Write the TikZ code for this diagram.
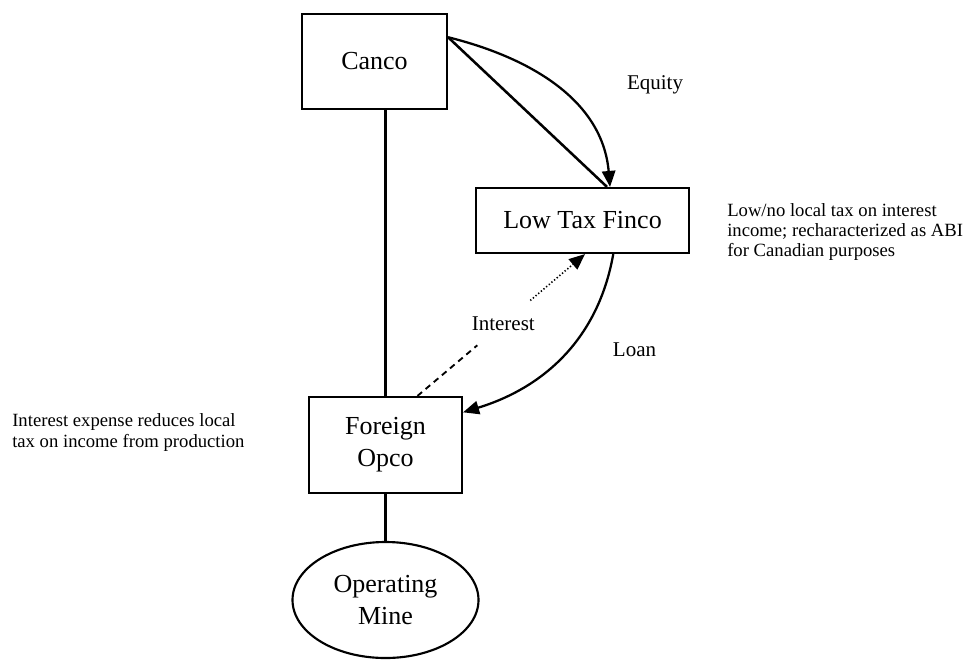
\documentclass[tikz,border=0pt]{standalone}
\usepackage{fontspec}
\setmainfont{Liberation Serif}
\usetikzlibrary{arrows.meta,shapes.geometric,calc}
\begin{document}
\begin{tikzpicture}[x=0.75pt,y=-0.75pt,
  box/.style={draw, line width=1.6pt, inner sep=0pt, font=\fontsize{19.5}{24}\selectfont, align=center},
  lab/.style={font=\fontsize{15.75}{18}\selectfont, inner sep=0pt},
  note/.style={align=left, inner sep=0pt},
  conn/.style={line width=1.7pt},
  tip/.style={-{Triangle[length=12pt,width=10pt]}}
]
\useasboundingbox (0,0) rectangle (971,661);
% nodes
\node[box, minimum width=108.75pt, minimum height=71.25pt] (canco) at (374.5,61.5) {Canco};
\node[box, minimum width=159.75pt, minimum height=48.75pt] (finco) at (582.5,220.5) {Low Tax Finco};
\node[box, minimum width=114.75pt, minimum height=72pt] (opco) at (385.5,445) {Foreign\\Opco};
\node[box, ellipse, minimum width=139.5pt, minimum height=87pt] (mine) at (385.5,600) {Operating\\Mine};
% annotations
\node[note, anchor=west, font=\fontsize{14}{15}\selectfont] (noteR) at (727,232)
  {Low/no local tax on interest\\income; recharacterized as ABI\\for Canadian purposes};
\node[note, anchor=west, font=\fontsize{14}{15.75}\selectfont] (noteL) at (12,432.5)
  {Interest expense reduces local\\tax on income from production};
% anchor points
\coordinate (cE) at ($(canco.north east)!0.25!(canco.south east)$);
\coordinate (fN1) at ($(finco.north west)!0.614!(finco.north east)$);
\coordinate (fN2) at ($(finco.north west)!0.628!(finco.north east)$);
\coordinate (fS1) at ($(finco.south west)!0.643!(finco.south east)$);
\coordinate (fS2) at ($(finco.south west)!0.512!(finco.south east)$);
\coordinate (oE) at ($(opco.north east)!0.167!(opco.south east)$);
\coordinate (oN) at ($(opco.north west)!0.706!(opco.north east)$);
% structure lines
\draw[conn] (canco.south -| opco.north) -- (opco.north);
\draw[conn] (opco.south) -- (mine.north);
\draw[line width=1.9pt] (cE) -- (fN1);
% Equity
\draw[conn, tip] (cE) to[out=-14, in=95] (fN2);
\node[lab] (equity) at (655,85) {Equity};
% Loan
\draw[conn, tip] (fS1) to[out=-100, in=17] (oE);
\node[lab] (loan) at (634.5,350) {Loan};
% Interest
\path (oN) -- (fS2) coordinate[pos=0.357] (d1) coordinate[pos=0.673] (d2)
  node[lab, pos=0.512] (interest) {Interest};
\draw[line width=1.4pt, dash pattern=on 4.5pt off 3.5pt] (oN) -- (d1);
\draw[line width=1.2pt, dash pattern=on 1pt off 1.6pt, tip] (d2) -- (fS2);
\end{tikzpicture}
\end{document}
